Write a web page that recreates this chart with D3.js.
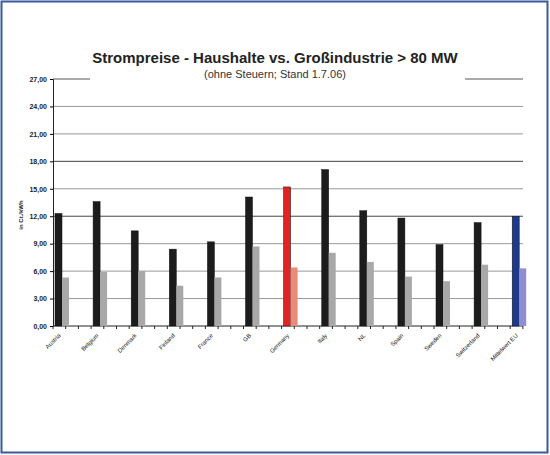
<!DOCTYPE html><html><head><meta charset="utf-8"><script src="https://d3js.org/d3.v7.min.js"></script>
<style>body{margin:0;background:#fff}</style></head><body><svg id="c" width="550" height="455"></svg>
<script>
const categories=["Austria","Belgium","Denmark","Finland","France","GB","Germany","Italy","NL","Spain","Sweden","Switzerland","Mittelwert EU"];
const haushalte=[12.3,13.6,10.4,8.4,9.2,14.1,15.2,17.1,12.6,11.8,8.9,11.3,12.0];
const industrie=[5.3,5.9,6.0,4.4,5.3,8.7,6.4,8.0,7.0,5.4,4.9,6.7,6.3];
const yTicks=[0,3,6,9,12,15,18,21,24,27];
const svg=d3.select("#c");
svg.append("rect").attr("x",1.5).attr("y",1.5).attr("width",546).attr("height",451).attr("fill","#fff").attr("stroke","#3b5a9a").attr("stroke-width",2);
const y=d3.scaleLinear().domain([0,27]).range([326,79]);
const x=d3.scaleBand().domain(categories).range([53,53+13*38.1]).paddingInner(0).paddingOuter(0);
const L=53,R=523;
yTicks.forEach(t=>{
  if(t===27){
    [[L,90],[465,R]].forEach(s=>svg.append("line").attr("x1",s[0]).attr("x2",s[1]).attr("y1",y(t)).attr("y2",y(t)).attr("stroke","#555"));
  } else if(t>0){
    svg.append("line").attr("x1",L).attr("x2",R).attr("y1",y(t)).attr("y2",y(t)).attr("stroke",t===18||t===12?"#444":"#999").attr("stroke-width",1);
  }
});
const ax=svg.append("g").attr("transform",`translate(${L},0)`).call(d3.axisLeft(y).tickValues(yTicks).tickSize(3).tickFormat(d=>d3.format(".2f")(d).replace(".",",")));
ax.select(".domain").attr("stroke","#222");
ax.selectAll("text").attr("font-family","Arial,Liberation Sans").attr("font-size",7).attr("font-weight","bold").attr("fill","#222");
svg.append("line").attr("x1",L).attr("x2",R).attr("y1",326).attr("y2",326).attr("stroke","#222");
d3.range(0,R-L,12.7).forEach(v=>svg.append("line").attr("x1",L+v).attr("x2",L+v).attr("y1",326).attr("y2",329).attr("stroke","#222"));
const dark=i=>i===6?"#e02424":i===12?"#1e3a8c":"#1c1c1c";
const light=i=>i===6?"#ea8a78":i===12?"#8e8ed0":"#a8a8a8";
categories.forEach((c,i)=>{
  const x0=x(c)+2;
  svg.append("rect").attr("x",x0).attr("y",y(haushalte[i])).attr("width",7).attr("height",y(0)-y(haushalte[i])).attr("fill",dark(i)).attr("stroke","#111").attr("stroke-width",0.5);
  svg.append("rect").attr("x",x0+7).attr("y",y(industrie[i])).attr("width",7).attr("height",y(0)-y(industrie[i])).attr("fill",light(i));
  svg.append("text").attr("transform",`translate(${x0+6},336) rotate(-45)`).attr("text-anchor","end").attr("font-family","Arial,Liberation Sans").attr("font-size",6).attr("fill","#222").text(c);
});
svg.append("text").attr("x",275).attr("y",63).attr("text-anchor","middle").attr("font-family","Arial,Liberation Sans").attr("font-weight","bold").attr("font-size",15).attr("fill","#222").text("Strompreise - Haushalte vs. Großindustrie > 80 MW");
svg.append("text").attr("x",275).attr("y",78).attr("text-anchor","middle").attr("font-family","Arial,Liberation Sans").attr("font-size",11).attr("fill","#333").text("(ohne Steuern; Stand 1.7.06)");
svg.append("text").attr("transform","translate(23,215) rotate(-90)").attr("text-anchor","middle").attr("font-family","Arial,Liberation Sans").attr("font-size",6).attr("font-weight","bold").attr("fill","#222").text("in Ct./kWh");
</script></body></html>
